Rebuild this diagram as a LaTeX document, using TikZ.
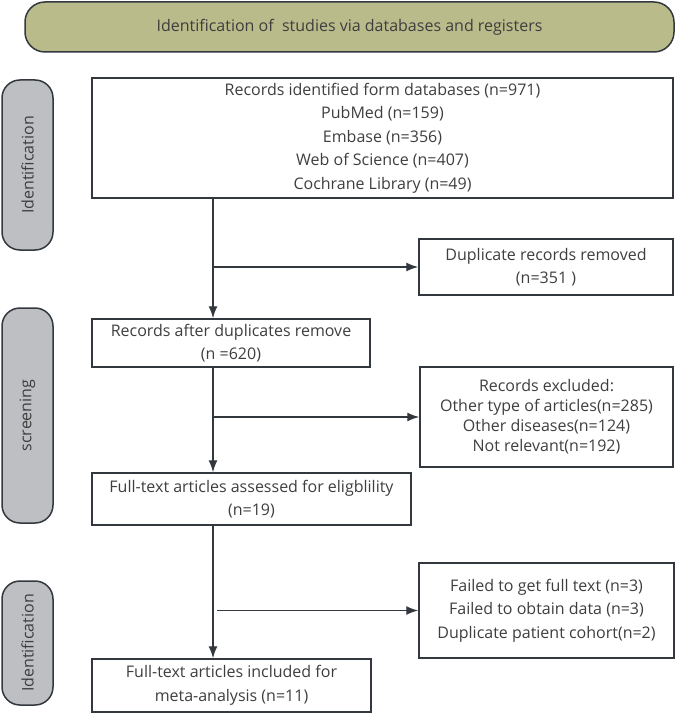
\documentclass[tikz,border=0pt]{standalone}
\usepackage{fontspec}
\setmainfont{Open Sans}
\usepackage{tikz}
\usetikzlibrary{positioning, arrows.meta, calc}
\definecolor{olivedoux}{RGB}{185, 187, 139}
\definecolor{grisdoux}{RGB}{190, 191, 194}
\definecolor{traitfonce}{RGB}{50, 56, 62}
\definecolor{textegris}{RGB}{62, 62, 62}

\begin{document}
\begin{tikzpicture}[x=1pt, y=-1pt, text=textegris,
    font=\fontsize{16}{23.5}\selectfont,
    boite/.style={draw=traitfonce, line width=1.5pt, align=center, inner sep=0pt},
    entete/.style={boite, fill=olivedoux, rounded corners=20pt},
    phase/.style={boite, fill=grisdoux, rounded corners=18pt, rotate=90, minimum height=51},
    fleche/.style={draw=traitfonce, line width=1.4pt, -{Latex[length=12pt, width=9pt]}}]
    \useasboundingbox (0,0) rectangle (675,714);

    % bandeau du haut
    \node[entete, minimum width=649, minimum height=50] (titre) at (349.5,27) {Identification of \ studies via databases and registers};

    % phases à gauche
    \node[phase, minimum width=170] (phaseA) at (27.5,165) {Identification};
    \node[phase, minimum width=215] (phaseB) at (27.5,415.5) {screening};
    \node[phase, minimum width=124] (phaseC) at (27.5,643) {Identification};

    % colonne principale
    \node[boite, minimum width=581, minimum height=120] (sources) at (382.5,138) {Records identified form databases (n=971)\\PubMed (n=159)\\Embase (n=356)\\Web of Science (n=407)\\Cochrane Library (n=49)};
    \node[boite, minimum width=278, minimum height=48] (apres) at (231,343) {Records after duplicates remove\\(n =620)};
    \node[boite, minimum width=319, minimum height=52] (evalues) at (251.5,499) {Full-text articles assessed for eligblility\\(n=19)};
    \node[boite, minimum width=279, minimum height=53] (inclus) at (231.5,685.5) {Full-text articles included for\\meta-analysis (n=11)};

    % exclusions à droite
    \node[boite, minimum width=254, minimum height=56] (doublons) at (546,267) {Duplicate records removed\\(n=351 )};
    \node[boite, minimum width=253, minimum height=100, font=\fontsize{16}{20}\selectfont] (exclus) at (546.5,417) {Records excluded:\\Other type of articles(n=285)\\Other diseases(n=124)\\Not relevant(n=192)};
    \node[boite, minimum width=255, minimum height=95] (echecs) at (546.5,610.5) {Failed to get full text (n=3)\\Failed to obtain data (n=3)\\Duplicate patient cohort(n=2)};

    % flèches
    \coordinate (axe) at (213,0);
    \draw[fleche] (sources.south -| axe) -- (apres.north -| axe);
    \draw[fleche] (apres.south -| axe) -- (evalues.north -| axe);
    \draw[fleche] (evalues.south -| axe) -- (inclus.north -| axe);
    \draw[fleche] (doublons.west -| axe) -- (doublons.west);
    \draw[fleche] (exclus.west -| axe) -- (exclus.west);
    \draw[fleche] ($(echecs.west -| axe)+(4,0)$) -- (echecs.west);
  \end{tikzpicture}
\end{document}
